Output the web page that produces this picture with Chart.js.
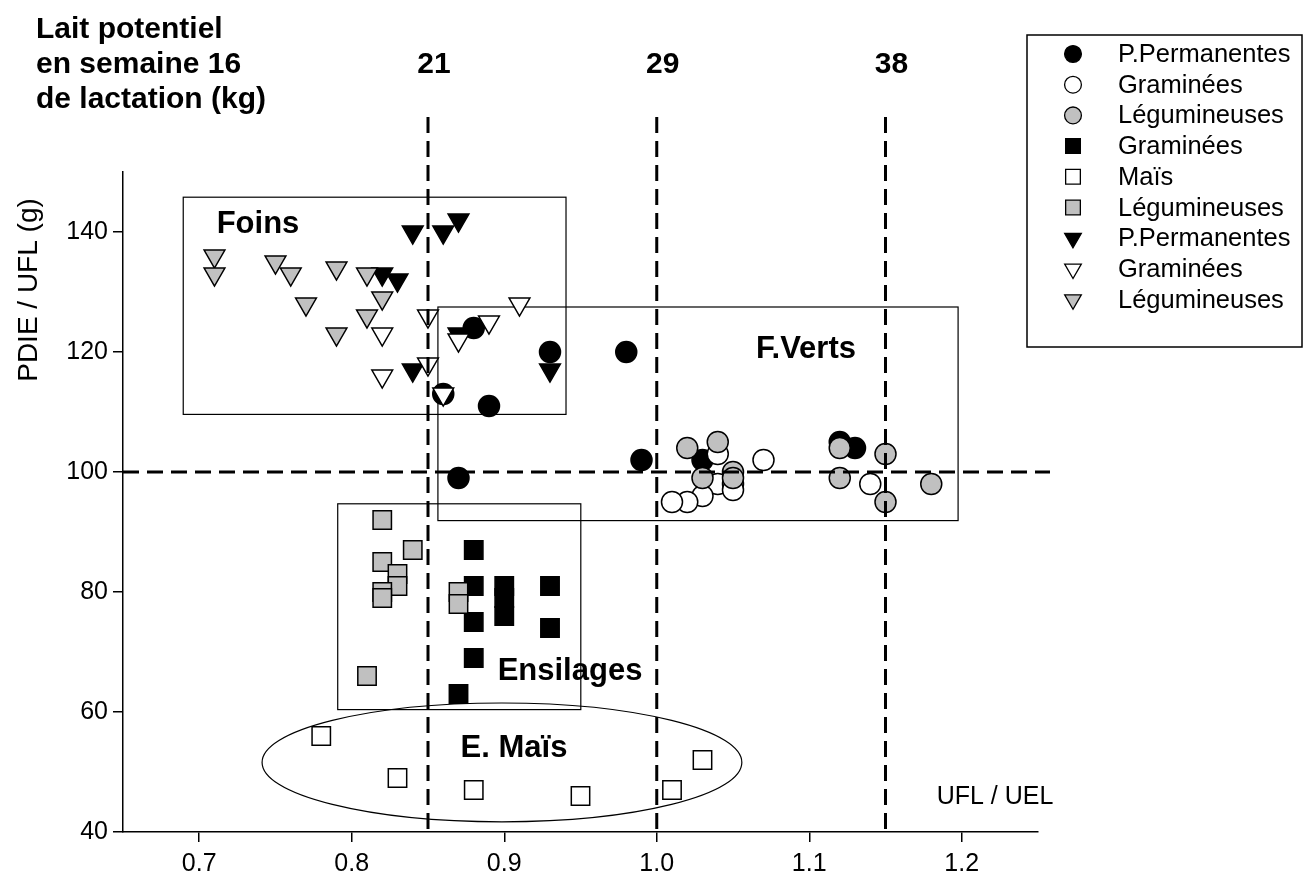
<!DOCTYPE html>
<html>
<head>
<meta charset="utf-8">
<script src="https://cdn.jsdelivr.net/npm/chart.js@4.4.1/dist/chart.umd.min.js"></script>
<style>
  html, body { margin: 0; padding: 0; background: #fff; }
</style>
</head>
<body>
<canvas id="chart" width="1304" height="886"></canvas>
<script>
// axes
const xTicks = [0.7, 0.8, 0.9, 1.0, 1.1, 1.2];
const yTicks = [40, 60, 80, 100, 120, 140];

// reference lines: UFL/UEL thresholds and matching potential milk (kg)
const seuilsUFL = [0.85, 1.0, 1.15];
const laitPotentiel = ['21', '29', '38'];
const seuilPDIE = 100;

// fourrages verts (circles)
const fvPermanentes = [[0.88, 124], [0.93, 120], [0.98, 120], [0.89, 111], [0.86, 113], [0.99, 102],
    [0.87, 99], [1.03, 102], [1.12, 105], [1.13, 104]];
const fvGraminees = [[1.04, 103], [1.04, 98], [1.03, 96], [1.02, 95], [1.01, 95], [1.05, 98],
    [1.05, 97], [1.07, 102], [1.14, 98]];
const fvLegumineuses = [[1.02, 104], [1.04, 105], [1.03, 99], [1.05, 100], [1.05, 99], [1.12, 104],
    [1.12, 99], [1.15, 103], [1.15, 95], [1.18, 98]];

// ensilages (squares)
const ensGraminees = [[0.88, 87], [0.88, 81], [0.88, 75], [0.88, 69], [0.87, 63], [0.9, 81],
    [0.9, 79], [0.9, 76], [0.93, 81], [0.93, 74]];
const ensMais = [[0.78, 56], [0.83, 49], [0.88, 47], [0.95, 46], [1.01, 47], [1.03, 52]];
const ensLegumineuses = [[0.82, 92], [0.84, 87], [0.82, 85], [0.83, 83], [0.83, 81], [0.82, 80],
    [0.82, 79], [0.87, 80], [0.87, 78], [0.81, 66]];

// foins (down triangles)
const foinPermanentes = [[0.82, 133], [0.83, 132], [0.84, 140], [0.86, 140], [0.87, 142], [0.84, 117],
    [0.93, 117], [0.87, 123]];
const foinGraminees = [[0.82, 123], [0.82, 116], [0.85, 126], [0.85, 118], [0.87, 122], [0.89, 125],
    [0.91, 128], [0.86, 113]];
const foinLegumineuses = [[0.71, 136], [0.71, 133], [0.75, 135], [0.76, 133], [0.77, 128], [0.79, 134],
    [0.79, 123], [0.81, 133], [0.82, 129], [0.81, 126]];

const legendLabels = ['P.Permanentes', 'Graminées', 'Légumineuses', 'Graminées', 'Maïs',
    'Légumineuses', 'P.Permanentes', 'Graminées', 'Légumineuses'];

// groups drawn on the plot: [xmin, xmax, ymin, ymax]
const boxFoins = [0.6895, 0.9405, 109.6, 145.8];
const boxVerts = [0.8565, 1.1976, 91.9, 127.5];
const boxEnsilages = [0.7908, 0.9502, 60.4, 94.7];
const ellipseMais = [0.8985, 51.6, 0.1573, 9.9]; // cx, cy, rx, ry

const FONT = "'Liberation Sans', Arial, sans-serif";
const GREY = '#c0c0c0';

function toPts(arr) {
    return arr.map(p => ({ x: p[0], y: p[1] }));
}

function makeSet(label, data, style, fill, radius) {
    return {
        label: label,
        data: toPts(data),
        pointStyle: style,
        rotation: style === 'triangle' ? 180 : 0,
        pointRadius: radius,
        pointBackgroundColor: fill,
        pointBorderColor: '#000',
        pointBorderWidth: 1.5,
        showLine: false
    };
}

const datasets = [
    makeSet(legendLabels[0], fvPermanentes, 'circle', '#000', 10.5),
    makeSet(legendLabels[1], fvGraminees, 'circle', '#fff', 10.5),
    makeSet(legendLabels[2], fvLegumineuses, 'circle', GREY, 10.5),
    makeSet(legendLabels[3], ensGraminees, 'rect', '#000', 13),
    makeSet(legendLabels[4], ensMais, 'rect', '#fff', 13),
    makeSet(legendLabels[5], ensLegumineuses, 'rect', GREY, 13),
    makeSet(legendLabels[6], foinPermanentes, 'triangle', '#000', 12),
    makeSet(legendLabels[7], foinGraminees, 'triangle', '#fff', 12),
    makeSet(legendLabels[8], foinLegumineuses, 'triangle', GREY, 12)
];
// later series drawn on top, like the original
datasets.forEach((d, i) => { d.order = datasets.length - i; });

const decor = {
    id: 'decor',
    beforeDatasetsDraw(chart) {
        const ctx = chart.ctx;
        const xs = chart.scales.x, ys = chart.scales.y;
        ctx.save();
        ctx.strokeStyle = '#000';
        ctx.lineWidth = 1.2;
        [boxFoins, boxVerts, boxEnsilages].forEach(b => {
            const x1 = xs.getPixelForValue(b[0]), x2 = xs.getPixelForValue(b[1]);
            const y1 = ys.getPixelForValue(b[3]), y2 = ys.getPixelForValue(b[2]);
            ctx.strokeRect(x1, y1, x2 - x1, y2 - y1);
        });
        const cx = xs.getPixelForValue(ellipseMais[0]), cy = ys.getPixelForValue(ellipseMais[1]);
        const rx = xs.getPixelForValue(ellipseMais[0] + ellipseMais[2]) - cx;
        const ry = cy - ys.getPixelForValue(ellipseMais[1] + ellipseMais[3]);
        ctx.beginPath();
        ctx.ellipse(cx, cy, rx, ry, 0, 0, Math.PI * 2);
        ctx.stroke();
        ctx.restore();
    },
    afterDatasetsDraw(chart) {
        const ctx = chart.ctx;
        const xs = chart.scales.x, ys = chart.scales.y;
        const area = chart.chartArea;
        ctx.save();

        // dashed threshold lines
        ctx.strokeStyle = '#000';
        ctx.lineWidth = 3;
        ctx.setLineDash([16, 8]);
        seuilsUFL.forEach(v => {
            const x = xs.getPixelForValue(v);
            ctx.beginPath();
            ctx.moveTo(x, area.top - 55);
            ctx.lineTo(x, area.bottom);
            ctx.stroke();
        });
        const yh = ys.getPixelForValue(seuilPDIE);
        ctx.beginPath();
        ctx.moveTo(area.left, yh);
        ctx.lineTo(area.right + 12, yh);
        ctx.stroke();
        ctx.setLineDash([]);

        // milk potential labels
        ctx.fillStyle = '#000';
        ctx.font = 'bold 30px ' + FONT;
        ctx.textAlign = 'center';
        ctx.textBaseline = 'middle';
        seuilsUFL.forEach((v, i) => {
            ctx.fillText(laitPotentiel[i], xs.getPixelForValue(v) + 6, 65);
        });
        ctx.font = 'bold 30px ' + FONT;
        ctx.textAlign = 'left';
        ['Lait potentiel', 'en semaine 16', 'de lactation (kg)'].forEach((t, i) => {
            ctx.fillText(t, 36, 30 + i * 35);
        });

        // group names
        ctx.font = 'bold 31px ' + FONT;
        ctx.textAlign = 'center';
        ctx.fillText('Foins', 258, 224);
        ctx.fillText('F.Verts', 806, 349);
        ctx.fillText('Ensilages', 570, 671);
        ctx.fillText('E. Maïs', 514, 748);

        // axis titles
        ctx.font = '25px ' + FONT;
        ctx.fillText('UFL / UEL', 995, 797);
        ctx.save();
        ctx.font = '28px ' + FONT;
        ctx.translate(29, 290);
        ctx.rotate(-Math.PI / 2);
        ctx.fillText('PDIE / UFL (g)', 0, 0);
        ctx.restore();

        // legend box
        const lx = 1027, ly = 35, lw = 275, lh = 312;
        ctx.lineWidth = 1.5;
        ctx.strokeStyle = '#000';
        ctx.strokeRect(lx, ly, lw, lh);
        ctx.font = '25.5px ' + FONT;
        ctx.textAlign = 'left';
        chart.data.datasets.forEach((d, i) => {
            const y = 54 + i * 30.7;
            ctx.fillStyle = d.pointBackgroundColor;
            ctx.strokeStyle = '#000';
            ctx.lineWidth = 1.3;
            Chart.helpers.drawPoint(ctx, {
                pointStyle: d.pointStyle,
                rotation: d.rotation,
                radius: d.pointRadius * 0.8,
                borderWidth: 1.3
            }, 1073, y);
            ctx.fillStyle = '#000';
            ctx.fillText(d.label, 1118, y + 1);
        });
        ctx.restore();
    }
};

new Chart(document.getElementById('chart'), {
    type: 'scatter',
    data: { datasets: datasets },
    options: {
        responsive: false,
        animation: false,
        layout: { padding: { top: 172, right: 266, left: 0, bottom: 0 } },
        plugins: {
            legend: { display: false },
            tooltip: { enabled: false }
        },
        scales: {
            x: {
                type: 'linear',
                min: 0.65,
                max: 1.25,
                afterBuildTicks: axis => { axis.ticks = xTicks.map(v => ({ value: v })); },
                afterFit: axis => { axis.height = 54; },
                ticks: {
                    callback: v => v.toFixed(1),
                    font: { family: FONT, size: 25 },
                    color: '#000',
                    padding: 7,
                    maxRotation: 0,
                    autoSkip: false
                },
                grid: { drawOnChartArea: false, tickLength: 10, color: '#000', lineWidth: 1.5 },
                border: { color: '#000', width: 1.5 }
            },
            y: {
                min: 40,
                max: 150,
                afterBuildTicks: axis => { axis.ticks = yTicks.map(v => ({ value: v })); },
                afterFit: axis => { axis.width = 123; },
                ticks: {
                    font: { family: FONT, size: 25 },
                    color: '#000',
                    padding: 5
                },
                grid: { drawOnChartArea: false, tickLength: 10, color: '#000', lineWidth: 1.5 },
                border: { color: '#000', width: 1.5 }
            }
        }
    },
    plugins: [decor]
});
</script>
</body>
</html>
